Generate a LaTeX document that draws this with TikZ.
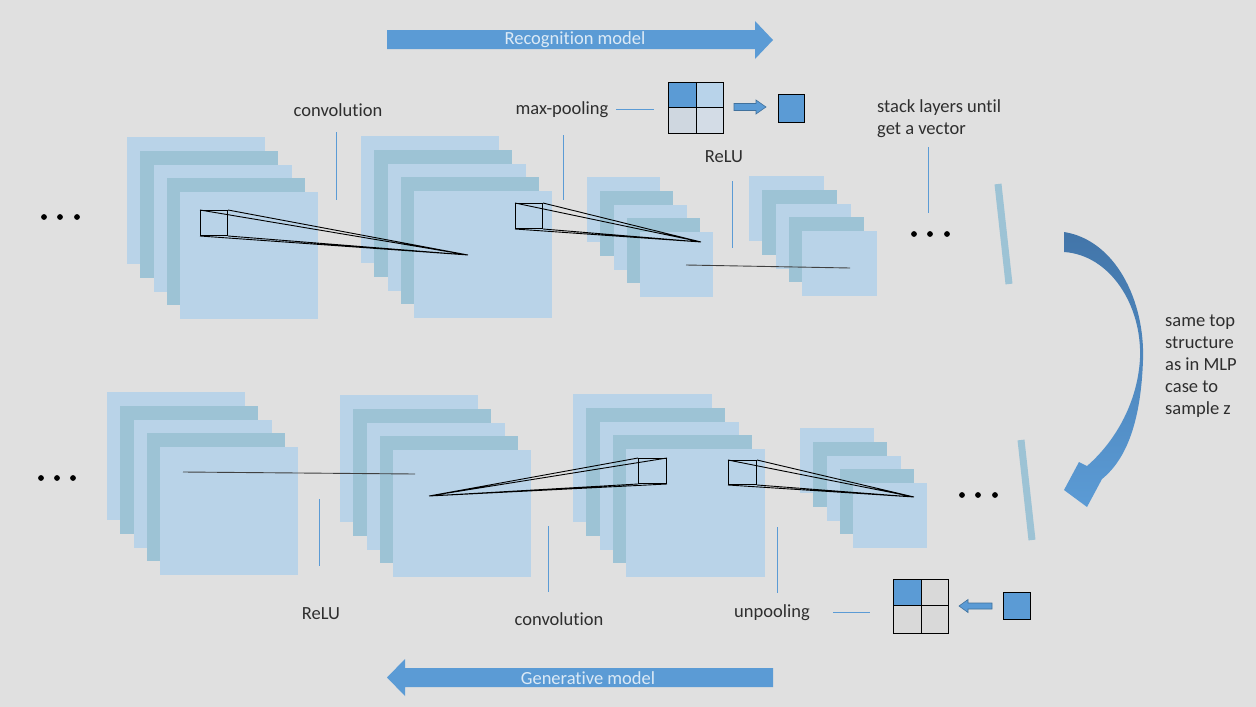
\documentclass[tikz,border=0pt]{standalone}
\usepackage{fontspec}
\setmainfont{Carlito}[RawFeature={-liga;-clig;-dlig}]
\definecolor{bg}{HTML}{E0E0E0}
\definecolor{lightsq}{HTML}{B9D3E8}
\definecolor{darksq}{HTML}{9DC3D5}
\definecolor{accent}{HTML}{5B9BD5}
\definecolor{accentdark}{HTML}{41719C}
\definecolor{curvetop}{HTML}{4275A9}
\definecolor{txt}{HTML}{2E2E2E}
\definecolor{arrowtxt}{HTML}{DCEAF6}
\definecolor{gridlight}{HTML}{B8D3EA}
\definecolor{gridgray}{HTML}{CFD7E0}
\definecolor{gridgraytwo}{HTML}{D3DCE6}
\definecolor{cellgray}{HTML}{D9D9D9}
\tikzset{
  lbl/.style={font=\fontsize{18.5}{22}\selectfont, text=txt, inner sep=0pt},
  arrowlbl/.style={font=\fontsize{18.5}{22}\selectfont, text=arrowtxt, inner sep=0pt},
  leader/.style={draw=accent, line width=0.8pt},
  cone/.style={draw=black, line width=0.9pt},
  flatline/.style={draw=black!75, line width=0.9pt},
  fieldbox/.style={draw=black, line width=1pt, inner sep=0pt, anchor=north west},
  dotmark/.style={fill=black, circle, inner sep=0pt, minimum size=5.8pt},
  cellbox/.style={draw=black, line width=1pt},
  vecbar/.style={draw=darksq, line width=7pt},
  blockarrow/.style={fill=accent},
  smallarrow/.style={draw=accentdark, fill=accent, line width=0.6pt},
}
\newcommand{\fmapstack}[5]{%
  \foreach \i/\c in {0/lightsq,1/darksq,2/lightsq,3/darksq,4/lightsq}{
    \fill[\c] ({#2+13.25*\i},{#3+13.75*\i}) rectangle ++(#4,#5);
  }
  \coordinate (#1) at ({#2+53},{#3+55});
}
\begin{document}
\begin{tikzpicture}[x=1pt,y=-1pt]
\fill[bg] (0,0) rectangle (1256,707);
\useasboundingbox (0,0) rectangle (1256,707);

% ---------- block arrows ----------
\fill[blockarrow] (387,30) -- (755,30) -- (755,21) -- (773,40) -- (755,59) -- (755,49) -- (387,49) -- cycle;
\node[arrowlbl] (recog) at (575,40) {Recognition model};
\fill[blockarrow] (773,668) -- (405,668) -- (405,659) -- (387,677.5) -- (405,696) -- (405,687) -- (773,687) -- cycle;
\node[arrowlbl] (gener) at (588,678) {Generative model};

% ---------- feature-map stacks ----------
\fmapstack{t1}{127}{137}{138}{127}
\fmapstack{t2}{361}{136}{138}{127}
\fmapstack{t3}{587}{177}{73}{65}
\fmapstack{t4}{749}{176}{75}{65}
\fmapstack{b1}{107}{392}{138}{128}
\fmapstack{b2}{340}{395}{138}{127}
\fmapstack{b3}{573}{394}{139}{128}
\fmapstack{b4}{800}{428}{74}{65}

% ---------- receptive fields (top) ----------
\node[fieldbox, minimum width=27pt, minimum height=25pt] (rf1) at (200,210) {};
\coordinate (ap1) at (468,255);
\draw[cone] (rf1.north west) -- (ap1) (rf1.north east) -- (ap1)
            (rf1.south west) -- (ap1) (rf1.south east) -- (ap1);
\node[fieldbox, minimum width=27pt, minimum height=25pt] (rf2) at (515,203) {};
\coordinate (ap2) at (701,242);
\draw[cone] (rf2.north west) -- (ap2) (rf2.north east) -- (ap2)
            (rf2.south west) -- (ap2) (rf2.south east) -- (ap2);
\coordinate (fl1a) at (686,265);
\coordinate (fl1b) at (850,268);
\draw[flatline] (fl1a) -- (fl1b);

% ---------- receptive fields (bottom) ----------
\coordinate (fl2a) at (183,472);
\coordinate (fl2b) at (415,474);
\draw[flatline] (fl2a) -- (fl2b);
\node[fieldbox, minimum width=28pt, minimum height=25pt] (rf3) at (638,458) {};
\coordinate (ap3) at (429,496);
\draw[cone] (rf3.north west) -- (ap3) (rf3.north east) -- (ap3)
            (rf3.south west) -- (ap3) (rf3.south east) -- (ap3);
\node[fieldbox, minimum width=28pt, minimum height=24pt] (rf4) at (728,460) {};
\coordinate (ap4) at (914,497);
\draw[cone] (rf4.north west) -- (ap4) (rf4.north east) -- (ap4)
            (rf4.south west) -- (ap4) (rf4.south east) -- (ap4);

% ---------- labels and leaders (top) ----------
\node[lbl] (conv1) at (338,110) {convolution};
\draw[leader] (336,132) -- (336,200);
\node[lbl] (maxp) at (562,110) {max-pooling};
\draw[leader] (563,135) -- (563,200);
\draw[leader] (616,109) -- (654,109);
\node[lbl] (relu1) at (724,157) {ReLU};
\draw[leader] (732,181) -- (732,248);
\node[lbl, align=left, anchor=north west] (stk) at (877,99) {stack layers until\\get a vector};
\draw[leader] (928,147) -- (928,213);

% max-pooling icon
\fill[accent] (668,82) rectangle (696,107);
\fill[gridlight] (696,82) rectangle (723,107);
\fill[gridgray] (668,107) rectangle (696,133);
\fill[gridgraytwo] (696,107) rectangle (723,133);
\draw[cellbox] (668,82) rectangle (723,133) (696,82) -- (696,133) (668,107) -- (723,107);
\draw[smallarrow] (734,103.5) -- (756,103.5) -- (756,100) -- (766,107) -- (756,114) -- (756,110.5) -- (734,110.5) -- cycle;
\draw[cellbox, fill=accent] (778,94) rectangle (804,122);

% ---------- labels and leaders (bottom) ----------
\node[lbl] (relu2) at (321,614) {ReLU};
\draw[leader] (319,499) -- (319,566);
\node[lbl] (conv2) at (559,619) {convolution};
\draw[leader] (548,526) -- (548,592);
\node[lbl] (unp) at (772,613) {unpooling};
\draw[leader] (777,527) -- (777,593);
\draw[leader] (833,612) -- (870,612);

% unpooling icon
\fill[accent] (893,579) rectangle (921,605);
\fill[cellgray] (921,579) rectangle (948,605);
\fill[cellgray] (893,605) rectangle (921,633);
\fill[cellgray] (921,605) rectangle (948,633);
\draw[cellbox] (893,579) rectangle (948,633) (921,579) -- (921,633) (893,605) -- (948,605);
\draw[smallarrow] (992,603) -- (968,603) -- (968,599.5) -- (959,606) -- (968,612.5) -- (968,609) -- (992,609) -- cycle;
\draw[cellbox, fill=accent] (1003,592) rectangle (1030,619);

% ---------- dots ----------
\foreach \x in {44,60,77} \node[dotmark] at (\x,217) {};
\foreach \x in {914,930,947} \node[dotmark] at (\x,234) {};
\foreach \x in {41,57,73} \node[dotmark] at (\x,478) {};
\foreach \x in {962,978,995} \node[dotmark] at (\x,495) {};

% ---------- vectors ----------
\draw[vecbar] (998,184) -- (1009,284);
\draw[vecbar] (1021,440) -- (1032,540);

% ---------- curved arrow ----------
\shade[top color=curvetop, bottom color=accent]
  (1064,232) .. controls (1115,240) and (1145,300) .. (1143,360)
  .. controls (1141,418) and (1128,458) .. (1102,479)
  -- (1087,507) -- (1064,490) -- (1079,462) -- (1087,466)
  .. controls (1117,440) and (1138,400) .. (1140,358)
  .. controls (1142,305) and (1110,255) .. (1064,252) -- cycle;
\node[lbl, align=left, anchor=north west] (same) at (1165,315) {same top\\structure\\as in MLP\\case to\\sample z};
\end{tikzpicture}
\end{document}
